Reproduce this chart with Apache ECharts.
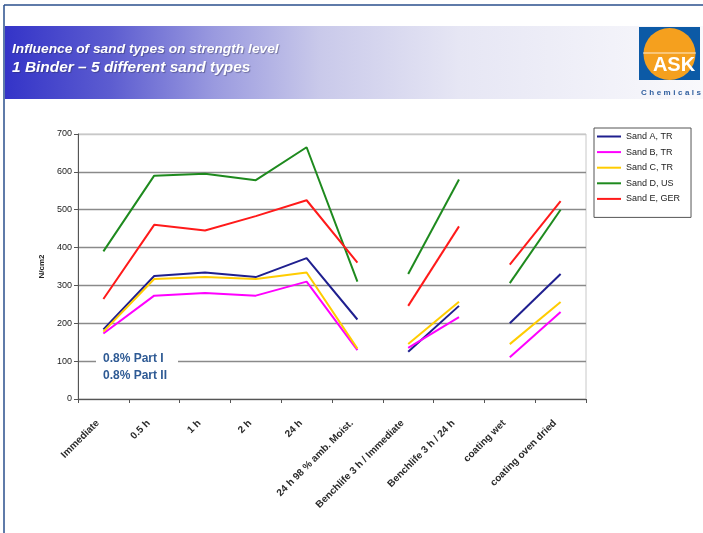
<!DOCTYPE html>
<html>
<head>
<meta charset="utf-8">
<script src="https://cdn.jsdelivr.net/npm/echarts@6/dist/echarts.min.js"></script>
<style>
  html, body { margin: 0; padding: 0; background: #fff; }
  #chart { width: 703px; height: 533px; }
</style>
</head>
<body>
<div id="chart"></div>
<script>
// Test stages along the x axis
const categories = [
  'Immediate', '0.5 h', '1 h', '2 h', '24 h',
  '24 h 98 % amb. Moist.', 'Benchlife 3 h / Immediate', 'Benchlife 3 h / 24 h',
  'coating wet', 'coating oven dried'
];

// Strength values (N/cm2) per sand type, one per stage
const sandA = [184, 325, 334, 322, 372, 210, 125, 246, 200, 330];
const sandB = [173, 273, 280, 273, 310, 129, 135, 216, 110, 230];
const sandC = [178, 317, 322, 317, 334, 133, 145, 257, 145, 256];
const sandD = [390, 590, 595, 578, 665, 310, 330, 580, 306, 500];
const sandE = [264, 460, 445, 483, 525, 360, 246, 456, 355, 523];

const seriesNames = ['Sand A, TR', 'Sand B, TR', 'Sand C, TR', 'Sand D, US', 'Sand E, GER'];
const seriesColors = ['#1f1f8f', '#ff00ff', '#ffcc00', '#1e8a1e', '#ff1a1a'];

// Stage groups drawn as separate, unconnected line pieces
const segments = [[0, 5], [6, 7], [8, 9]];

// Y axis ticks
const yTicks = [0, 100, 200, 300, 400, 500, 600, 700];

const allSands = [sandA, sandB, sandC, sandD, sandE];

const FONT = '"Liberation Sans", Arial, sans-serif';

const series = [];
allSands.forEach((values, i) => {
  segments.forEach(([from, to]) => {
    series.push({
      name: seriesNames[i],
      type: 'line',
      symbol: 'none',
      silent: true,
      animation: false,
      lineStyle: { width: 2, color: seriesColors[i] },
      itemStyle: { color: seriesColors[i] },
      data: values.map((v, k) => (k >= from && k <= to ? v : '-')),
      z: 3
    });
  });
});

// "Chemicals" set with wide letter spacing under the logo
const chemFont = 'bold 8px ' + FONT;
const measureCtx = document.createElement('canvas').getContext('2d');
measureCtx.font = chemFont;
const chemWord = 'Chemicals';
const chemStart = 641, chemEnd = 701;
const chemWidths = chemWord.split('').map(ch => measureCtx.measureText(ch).width);
const chemTotal = chemWidths.reduce((a, b) => a + b, 0);
const chemGap = (chemEnd - chemStart - chemTotal) / (chemWord.length - 1);
let chemX = chemStart;
const chemLetters = chemWord.split('').map((ch, k) => {
  const el = {
    type: 'text',
    x: chemX,
    y: 93,
    style: { text: ch, fill: '#2f5e9e', font: chemFont, textAlign: 'left', textVerticalAlign: 'middle' },
    z: 20
  };
  chemX += chemWidths[k] + chemGap;
  return el;
});

const chart = echarts.init(document.getElementById('chart'), null, { renderer: 'canvas' });

chart.setOption({
  backgroundColor: '#ffffff',
  animation: false,
  grid: {
    left: 78, right: 117, top: 134, bottom: 134,
    show: true, borderColor: '#c8c8c8', borderWidth: 1
  },
  legend: {
    orient: 'vertical',
    left: 594,
    top: 128,
    padding: [3, 11, 13, 3],
    itemGap: 4.6,
    itemWidth: 24,
    itemHeight: 2,
    icon: 'rect',
    borderColor: '#555',
    borderWidth: 1,
    backgroundColor: '#fff',
    textStyle: { fontSize: 9, color: '#222', fontFamily: FONT, lineHeight: 11 },
    data: seriesNames
  },
  xAxis: {
    type: 'category',
    data: categories,
    boundaryGap: true,
    axisLine: { lineStyle: { color: '#555', width: 1 } },
    axisTick: { show: true, length: 4, lineStyle: { color: '#555' } },
    axisLabel: {
      interval: 0,
      rotate: 45,
      margin: 17,
      padding: [0, 8, 0, 0],
      fontSize: 10,
      fontWeight: 'bold',
      color: '#2a2a2a',
      fontFamily: FONT
    },
    splitLine: { show: false }
  },
  yAxis: {
    type: 'value',
    min: yTicks[0],
    max: yTicks[yTicks.length - 1],
    interval: 100,
    name: 'N/cm2',
    nameLocation: 'middle',
    nameGap: 31,
    nameTextStyle: { fontSize: 8, fontWeight: 'bold', color: '#222', fontFamily: FONT },
    axisLine: { show: true, lineStyle: { color: '#555', width: 1 } },
    axisTick: { show: true, length: 4, lineStyle: { color: '#555' } },
    axisLabel: { fontSize: 9, color: '#222', margin: 6, fontFamily: FONT },
    splitLine: {
      show: true,
      lineStyle: {
        width: 1.3,
        color: ['#8a8a8a', '#8a8a8a', '#8a8a8a', '#8a8a8a', '#8a8a8a', '#8a8a8a', '#8a8a8a', '#c8c8c8']
      }
    }
  },
  series: series,
  graphic: [
    // outer frame
    { type: 'line', shape: { x1: 4, y1: 5, x2: 703, y2: 5 }, style: { stroke: '#2a4f8c', lineWidth: 1.5 }, z: 20 },
    { type: 'line', shape: { x1: 4, y1: 5, x2: 4, y2: 533 }, style: { stroke: '#2a4f8c', lineWidth: 1.5 }, z: 20 },
    // title band
    {
      type: 'rect',
      shape: { x: 5, y: 26, width: 698, height: 73 },
      style: {
        fill: new echarts.graphic.LinearGradient(0, 0, 1, 0, [
          { offset: 0, color: '#3434c8' },
          { offset: 0.15, color: '#5c5cd0' },
          { offset: 0.3, color: '#9a9adf' },
          { offset: 0.45, color: '#c9c9ea' },
          { offset: 0.65, color: '#e6e6f4' },
          { offset: 1, color: '#f9f9fc' }
        ])
      },
      z: 10
    },
    {
      type: 'text', x: 12, y: 49.5, scaleX: 1.1,
      style: {
        text: 'Influence of sand types on strength level',
        fill: '#ffffff',
        font: 'italic bold 12.5px ' + FONT,
        textVerticalAlign: 'middle',
        textShadowColor: 'rgba(40,40,80,0.45)', textShadowBlur: 1, textShadowOffsetX: 1, textShadowOffsetY: 1
      },
      z: 11
    },
    {
      type: 'text', x: 12, y: 67.5, scaleX: 1.03,
      style: {
        text: '1 Binder \u2013 5 different sand types',
        fill: '#ffffff',
        font: 'italic bold 15px ' + FONT,
        textVerticalAlign: 'middle',
        textShadowColor: 'rgba(40,40,80,0.45)', textShadowBlur: 1, textShadowOffsetX: 1, textShadowOffsetY: 1
      },
      z: 11
    },
    // logo
    { type: 'rect', shape: { x: 639, y: 27, width: 61, height: 53 }, style: { fill: '#0c5aa6' }, z: 12 },
    { type: 'circle', shape: { cx: 669.5, cy: 54, r: 26 }, style: { fill: '#f5a01e' }, z: 13 },
    { type: 'line', shape: { x1: 643, y1: 53, x2: 696, y2: 53 }, style: { stroke: 'rgba(255,255,255,0.8)', lineWidth: 1 }, z: 14 },
    {
      type: 'text', x: 674, y: 65.5,
      style: {
        text: 'ASK', fill: '#ffffff', font: 'bold 20px ' + FONT,
        textAlign: 'center', textVerticalAlign: 'middle'
      },
      z: 15
    },
    ...chemLetters,
    // binder dosage note
    { type: 'rect', shape: { x: 96, y: 346, width: 82, height: 44 }, style: { fill: '#ffffff' }, z: 6 },
    {
      type: 'text', left: 103, top: 350,
      style: {
        text: '0.8% Part I\n0.8% Part II',
        fill: '#2e5a94',
        font: 'bold 12px ' + FONT,
        lineHeight: 17
      },
      z: 7
    }
  ]
});
</script>
</body>
</html>
